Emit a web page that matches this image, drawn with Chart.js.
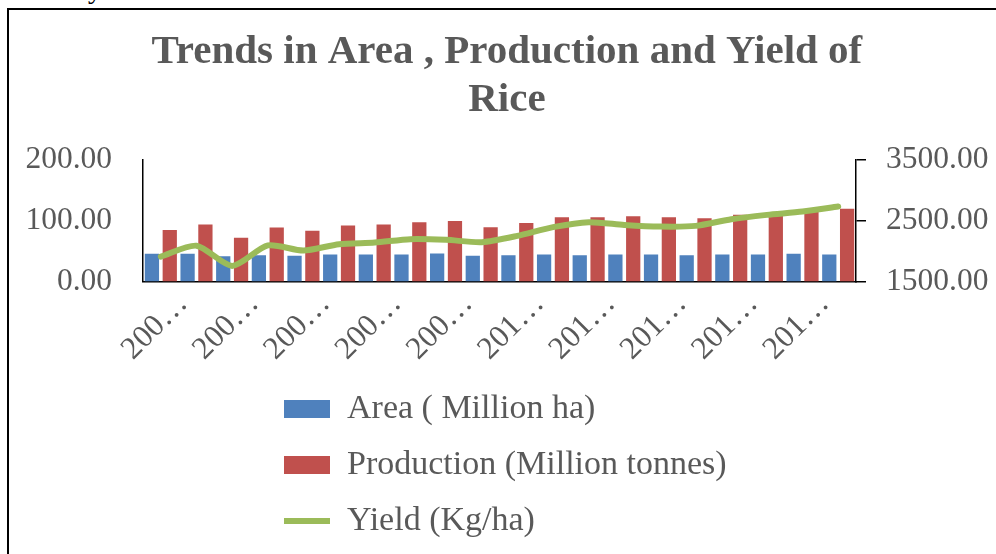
<!DOCTYPE html>
<html>
<head>
<meta charset="utf-8">
<script src="https://cdn.jsdelivr.net/npm/chart.js@4.4.0/dist/chart.umd.min.js"></script>
<style>
  html, body { margin: 0; padding: 0; background: #fff; overflow: hidden; }
  #wrap { position: relative; width: 996px; height: 554px; overflow: hidden; }
  #myChart { position: absolute; left: 0; top: 0; }
  #frame { position: absolute; left: 7px; top: 8px; width: 1200px; height: 800px;
           border-left: 2px solid #000; border-top: 2px solid #000; pointer-events: none; }
  #above { position: absolute; left: 88px; top: -25px; font: 28px 'Liberation Serif', serif;
           line-height: 28px; color: #000; }
</style>
</head>
<body>
<div id="wrap">
  <div id="above">y</div>
  <canvas id="myChart" width="996" height="554"></canvas>
  <div id="frame"></div>
</div>
<script>
// Years of the series (only every other one gets a label on the axis)
const years = ['2000-01', '2001-02', '2002-03', '2003-04', '2004-05', '2005-06', '2006-07',
  '2007-08', '2008-09', '2009-10', '2010-11', '2011-12', '2012-13', '2013-14', '2014-15',
  '2015-16', '2016-17', '2017-18', '2018-19', '2019-20'];

// Values
const area = [45.6, 45.6, 41.7, 43.4, 42.3, 44.4, 44.4, 44.4, 46.1, 42.3,
  43.4, 44.4, 43.4, 44.4, 44.4, 43.4, 44.4, 44.4, 45.6, 44.4];
const production = [85.0, 93.8, 71.9, 88.8, 83.4, 92.1, 93.8, 97.7, 99.8, 89.5,
  96.5, 105.9, 105.9, 107.5, 105.9, 104.2, 109.7, 112.5, 116.8, 119.6];
const yieldKg = [1911, 2090, 1758, 2095, 2010, 2115, 2141, 2197, 2186, 2148,
  2252, 2395, 2477, 2432, 2405, 2416, 2526, 2597, 2651, 2734];

// Axis ranges
const leftTicks = [0, 100, 200];
const rightTicks = [1500, 2500, 3500];

const seriesNames = ['Area ( Million ha)', 'Production (Million tonnes)', 'Yield (Kg/ha)'];
const titleLines = ['Trends in Area , Production and Yield of', 'Rice'];

const LEGEND_LEFT = 262;

Chart.defaults.font.family = "'Liberation Serif', 'Times New Roman', serif";
Chart.defaults.color = '#595959';

// moves the stacked legend block to where the original has it
const legendShift = {
  id: 'legendShift',
  afterLayout(chart) {
    const lg = chart.legend;
    const dx = LEGEND_LEFT - lg.left;
    lg.left += dx;
    lg.right += dx;
  }
};

const ctx = document.getElementById('myChart');

new Chart(ctx, {
  data: {
    labels: years,
    datasets: [{
      type: 'bar',
      label: seriesNames[0],
      data: area,
      backgroundColor: '#4F81BD',
      borderWidth: 0,
      pointStyle: 'rect',
      barPercentage: 0.8,
      categoryPercentage: 1,
      yAxisID: 'y',
      order: 2
    }, {
      type: 'bar',
      label: seriesNames[1],
      data: production,
      backgroundColor: '#C0504D',
      borderWidth: 0,
      pointStyle: 'rect',
      barPercentage: 0.8,
      categoryPercentage: 1,
      yAxisID: 'y',
      order: 2
    }, {
      type: 'line',
      label: seriesNames[2],
      data: yieldKg,
      borderColor: '#9BBB59',
      backgroundColor: '#9BBB59',
      borderWidth: 6,
      borderCapStyle: 'round',
      borderJoinStyle: 'round',
      pointRadius: 0,
      pointHoverRadius: 0,
      pointBorderWidth: 6,
      pointBorderColor: '#9BBB59',
      pointStyle: 'line',
      tension: 0.25,
      yAxisID: 'y1',
      order: 1
    }]
  },
  options: {
    responsive: false,
    animation: false,
    layout: { padding: { left: 25.4, right: 7.6, top: 0, bottom: 6 } },
    scales: {
      x: {
        // tick marks are hidden, tickLength only spaces the labels
        grid: { display: false, tickLength: 2 },
        border: { color: '#000', width: 1.5 },
        ticks: {
          autoSkip: false,
          minRotation: 45,
          maxRotation: 45,
          padding: 2,
          labelOffset: 22,
          font: { size: 31.5 },
          callback: function(value, index) {
            if (index % 2 !== 0) return '';
            return this.getLabelForValue(value).slice(0, 3) + '…';
          }
        }
      },
      y: {
        position: 'left',
        min: leftTicks[0],
        max: leftTicks[leftTicks.length - 1],
        grid: { display: false, tickLength: 31 },
        border: { color: '#000', width: 1.5 },
        ticks: {
          stepSize: leftTicks[1] - leftTicks[0],
          padding: 0,
          font: { size: 31.5 },
          callback: v => v.toFixed(2)
        }
      },
      y1: {
        position: 'right',
        min: rightTicks[0],
        max: rightTicks[rightTicks.length - 1],
        grid: { drawOnChartArea: false, color: '#000', lineWidth: 1.5, tickLength: 10 },
        border: { color: '#000', width: 1.5 },
        ticks: {
          stepSize: rightTicks[1] - rightTicks[0],
          padding: 10,
          crossAlign: 'far',
          font: { size: 31.5 },
          callback: v => v.toFixed(2)
        }
      }
    },
    plugins: {
      title: {
        display: true,
        text: titleLines,
        color: '#595959',
        font: { size: 41, weight: 'bold', lineHeight: 1.17 },
        padding: { top: 28, bottom: 36 }
      },
      legend: {
        position: 'bottom',
        align: 'start',
        fullSize: false,
        labels: {
          usePointStyle: true,
          pointStyleWidth: 46,
          boxHeight: 18,
          padding: 22,
          color: '#595959',
          font: { size: 34 },
          sort: (a, b) => a.datasetIndex - b.datasetIndex
        }
      },
      tooltip: { enabled: false }
    }
  },
  plugins: [legendShift]
});
</script>
</body>
</html>
